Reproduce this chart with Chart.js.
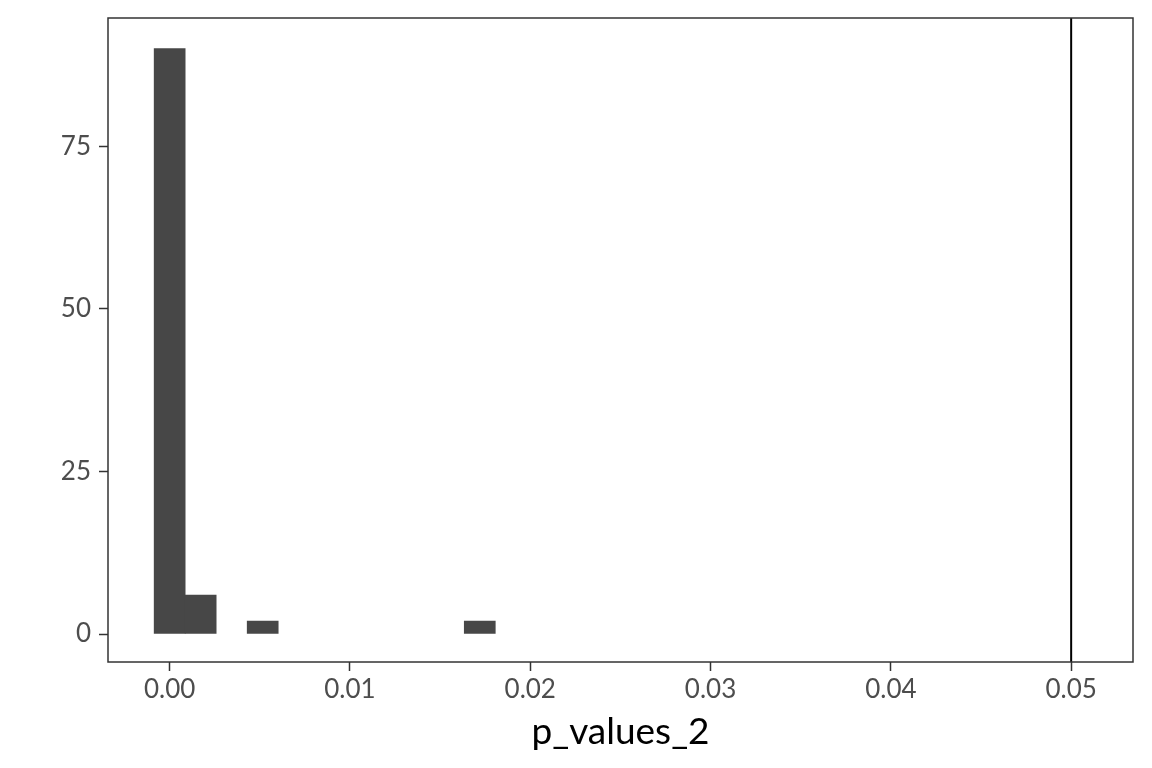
<!DOCTYPE html>
<html>
<head>
<meta charset="utf-8">
<script src="https://cdn.jsdelivr.net/npm/chart.js@4"></script>
<style>
  html, body { margin: 0; padding: 0; background: #ffffff; }
  #wrap { width: 1152px; height: 768px; }
</style>
</head>
<body>
<div id="wrap"><canvas id="c" width="1152" height="768"></canvas></div>
<script>
// Histogram bins (bin centers) and counts
const binCenters = [0, 0.00172, 0.00344, 0.00516, 0.00688, 0.0086, 0.01032, 0.01204, 0.01376, 0.01548, 0.0172];
const counts = [90, 6, 0, 2, 0, 0, 0, 0, 0, 0, 2];
// Reference line
const vlineX = 0.05;
// Tick values
const xTicks = [0, 0.01, 0.02, 0.03, 0.04, 0.05];
const yTicks = [0, 25, 50, 75];
const xTitle = "p_values_2";

const X_MIN = -0.00342, X_MAX = 0.05343;
const Y_MIN = -4.3, Y_MAX = 94.7;

const FONT = "Lato, 'Noto Sans', sans-serif";

const borderPlugin = {
  id: 'panelBorder',
  afterDatasetsDraw(chart) {
    const a = chart.chartArea, ctx = chart.ctx;
    ctx.save();
    ctx.strokeStyle = '#333333';
    ctx.lineWidth = 1.5;
    ctx.strokeRect(a.left, a.top, a.right - a.left, a.bottom - a.top);
    ctx.restore();
  }
};

const barData = binCenters
  .map((x, i) => ({ x: x, y: counts[i] }))
  .filter(p => p.y > 0);

new Chart(document.getElementById('c'), {
  type: 'bar',
  data: {
    datasets: [
      {
        type: 'bar',
        data: barData,
        backgroundColor: '#474747',
        borderWidth: 0,
        barPercentage: 1.0,
        categoryPercentage: 1.0,
        order: 2
      },
      {
        type: 'line',
        data: [{ x: vlineX, y: Y_MIN }, { x: vlineX, y: Y_MAX }],
        borderColor: '#000000',
        borderWidth: 2,
        pointRadius: 0,
        fill: false,
        order: 1
      }
    ]
  },
  options: {
    responsive: false,
    devicePixelRatio: 1,
    animation: false,
    layout: { padding: { top: 18, right: 19, bottom: 14, left: 0 } },
    plugins: { legend: { display: false }, tooltip: { enabled: false } },
    scales: {
      x: {
        type: 'linear',
        min: X_MIN,
        max: X_MAX,
        offset: false,
        afterBuildTicks(scale) { scale.ticks = xTicks.map(v => ({ value: v })); },
        afterFit(scale) { scale.height = 92; scale.paddingLeft = 0; scale.paddingRight = 0; },
        grid: { display: true, offset: false, drawOnChartArea: false, drawTicks: true, tickLength: 9, tickColor: '#333333', tickWidth: 1.5 },
        border: { display: false },
        ticks: {
          color: '#4D4D4D',
          font: { family: FONT, size: 26 },
          padding: 3,
          maxRotation: 0,
          autoSkip: false,
          callback: v => v.toFixed(2)
        },
        title: {
          display: true,
          text: xTitle,
          color: '#000000',
          font: { family: FONT, size: 37 },
          padding: { top: 0, bottom: 0 }
        }
      },
      y: {
        type: 'linear',
        min: Y_MIN,
        max: Y_MAX,
        afterBuildTicks(scale) { scale.ticks = yTicks.map(v => ({ value: v })); },
        afterFit(scale) { scale.width = 108; scale.paddingTop = 0; scale.paddingBottom = 0; },
        grid: { display: true, offset: false, drawOnChartArea: false, drawTicks: true, tickLength: 9, tickColor: '#333333', tickWidth: 1.5 },
        border: { display: false },
        ticks: {
          color: '#4D4D4D',
          font: { family: FONT, size: 26 },
          padding: 8,
          autoSkip: false
        }
      }
    }
  },
  plugins: [borderPlugin]
});
</script>
</body>
</html>
